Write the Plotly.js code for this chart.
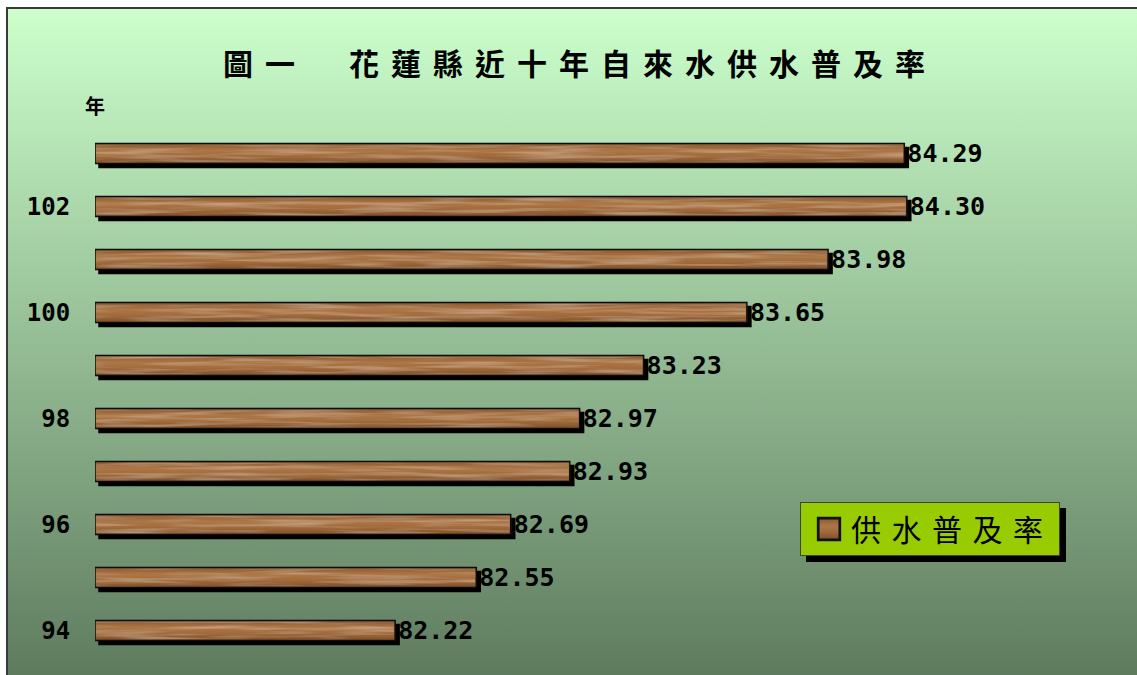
<!DOCTYPE html>
<html><head><meta charset="utf-8">
<script src="https://cdn.plot.ly/plotly-3.0.1.min.js"></script>
<style>
html,body{margin:0;padding:0;width:1137px;height:675px;overflow:hidden;background:#fff;}
#frame{position:absolute;left:6px;top:7px;width:1140px;height:680px;border-left:2px solid #3a3a3a;border-top:2px solid #3a3a3a;background:linear-gradient(to bottom,#ccffcc 0%,#5c785c 100%);}
#chart{position:absolute;left:0;top:0;width:1137px;height:675px;}
.barlayer .point path{fill:url(#wood) !important;filter:url(#shadow);}
.legend .bg{filter:url(#shadow2);}
.legendpoints path{fill:url(#wood) !important;transform:translate(28px,0) scale(1.8);}
.legendtext{letter-spacing:10.5px;}
.gtitle{letter-spacing:12px;}
</style></head>
<body>
<svg width="0" height="0" style="position:absolute">
<defs>
<linearGradient id="wood" x1="0" y1="0" x2="0" y2="1">
 <stop offset="0" stop-color="#8a5a30"/>
 <stop offset="0.35" stop-color="#ad7646"/>
 <stop offset="0.65" stop-color="#a06a3a"/>
 <stop offset="1" stop-color="#7e4e28"/>
</linearGradient>
<filter id="shadow" x="-5%" y="-60%" width="115%" height="260%">
 <feTurbulence type="fractalNoise" baseFrequency="0.012 0.28" numOctaves="2" seed="7" result="n"/>
 <feColorMatrix in="n" type="matrix" values="0 0 0 0 0.9  0 0 0 0 0.74  0 0 0 0 0.52  0.75 0 0 0 -0.32" result="g"/>
 <feMorphology in="SourceAlpha" operator="erode" radius="1.6" result="inner"/>
 <feComposite in="g" in2="inner" operator="in" result="gi"/>
 <feOffset in="SourceAlpha" dx="4" dy="4" result="off"/>
 <feMerge><feMergeNode in="off"/><feMergeNode in="SourceGraphic"/><feMergeNode in="gi"/></feMerge>
</filter>
<filter id="shadow2" x="-10%" y="-30%" width="130%" height="160%">
 <feOffset in="SourceAlpha" dx="6" dy="6" result="off"/>
 <feMerge><feMergeNode in="off"/><feMergeNode in="SourceGraphic"/></feMerge>
</filter>
</defs></svg>
<div id="frame"></div>
<div id="chart"></div>
<script>
const years = ['94','95','96','97','98','99','100','101','102','103'];
const rates = [82.22, 82.55, 82.69, 82.93, 82.97, 83.23, 83.65, 83.98, 84.30, 84.29];
const yearTicks = ['94','96','98','100','102'];
const seriesName = '供水普及率';
const chartTitle = '圖一　花蓮縣近十年自來水供水普及率';
const yearLabel = '年';
const axisMin = 81;
const axisMax = 85;

const cjk = '"Noto Sans CJK TC", "Noto Sans CJK SC", sans-serif';
const mono = '"DejaVu Sans Mono", "Liberation Mono", monospace';

const trace = {
  type: 'bar',
  orientation: 'h',
  name: seriesName,
  y: years,
  base: axisMin,
  x: rates.map(v => +(v - axisMin).toFixed(2)),
  text: rates.map(v => v.toFixed(2)),
  textposition: 'outside',
  constraintext: 'none',
  cliponaxis: false,
  textfont: {family: mono, size: 25, weight: 700, color: '#000'},
  marker: {color: '#a8703f', line: {color: '#111', width: 1.5}},
  showlegend: true,
  hoverinfo: 'y+text'
};

const layout = {
  width: 1137, height: 675,
  paper_bgcolor: 'rgba(0,0,0,0)',
  plot_bgcolor: 'rgba(0,0,0,0)',
  margin: {l: 95, r: 58, t: 127, b: 18},
  bargap: 0.62,
  title: {
    text: chartTitle,
    font: {family: cjk, size: 30, weight: 700, color: '#000'},
    x: 580/1137, xref: 'container', xanchor: 'center',
    y: 1 - 64/675, yref: 'container', yanchor: 'middle'
  },
  xaxis: {range: [axisMin, axisMax], visible: false, fixedrange: true},
  yaxis: {
    type: 'category',
    categoryorder: 'array', categoryarray: years,
    tickmode: 'array', tickvals: yearTicks, ticktext: yearTicks,
    ticks: 'outside', ticklen: 19, tickcolor: 'rgba(0,0,0,0)',
    tickfont: {family: mono, size: 24, weight: 700, color: '#000'},
    showgrid: false, zeroline: false, showline: false, fixedrange: true
  },
  showlegend: true,
  legend: {
    x: (800-95)/984, y: (657-502)/530, xanchor: 'left', yanchor: 'top',
    bgcolor: '#99cc00', bordercolor: '#3a4a20', borderwidth: 1,
    itemwidth: 40,
    font: {family: cjk, size: 30, color: '#000'}
  },
  annotations: [{
    text: yearLabel, xref: 'paper', yref: 'paper', x: 0, y: 1,
    xanchor: 'center', yanchor: 'middle', yshift: 22, showarrow: false,
    font: {family: cjk, size: 20, weight: 700, color: '#000'}
  }]
};

Plotly.newPlot('chart', [trace], layout, {displayModeBar: false, staticPlot: true});
</script>
</body></html>
